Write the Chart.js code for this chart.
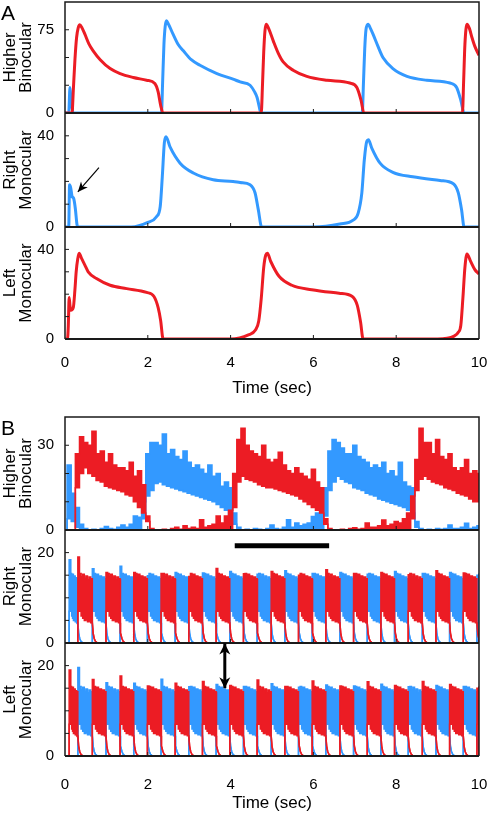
<!DOCTYPE html>
<html>
<head>
<meta charset="utf-8">
<script src="https://cdn.jsdelivr.net/npm/chart.js@4.4.1/dist/chart.umd.min.js"></script>
<style>
  html, body { margin: 0; padding: 0; background: #fff; overflow: hidden; }
  #page { position: relative; width: 488px; height: 814px; overflow: hidden; }
  .plot { position: absolute; left: 0; }
  .letter { position: absolute; font: 21px 'Liberation Sans', Arial, sans-serif; line-height: 21px; color: #000; }
</style>
</head>
<body>
<div id="page">
  <canvas id="a1" class="plot"></canvas>
  <canvas id="a2" class="plot"></canvas>
  <canvas id="a3" class="plot"></canvas>
  <canvas id="b1" class="plot"></canvas>
  <canvas id="b2" class="plot"></canvas>
  <canvas id="b3" class="plot"></canvas>
  <div class="letter" style="left:1px; top:2px">A</div>
  <div class="letter" style="left:1px; top:417px">B</div>
</div>
<script>
// --- данные ---
const timeTicks = [0, 2, 4, 6, 8, 10];

// A: Higher Binocular
const aBinoRedT = [0, 0.17, 0.2, 0.24, 0.28, 0.32, 0.36, 0.42, 0.48, 0.58, 0.68, 0.85, 1.09, 1.33, 1.65, 1.97, 2.17, 2.25, 2.31, 2.37,
  4.74, 4.77, 4.8, 4.83, 4.86, 4.92, 5.03, 5.15, 5.27, 5.51, 5.84, 6.33, 6.88, 7.05, 7.15, 7.22, 9.6, 9.63, 9.66, 9.71, 9.77, 9.83, 9.9, 10];
const aBinoRedV = [0, 0, 20, 48, 68, 77, 79.5, 76, 71, 62, 56, 48, 40, 35.5, 32, 29.5, 26.5, 19, 7, 0,
  0, 25, 55, 74, 80, 76, 65, 54, 46, 38.5, 33, 29.5, 27, 23, 11.6, 0, 0, 30, 62, 80, 76, 68, 60, 52];
const aBinoBlueT = [0, 0.09, 0.12, 0.15, 0.2, 2.33, 2.36, 2.39, 2.42, 2.45, 2.5, 2.61, 2.73, 2.86, 3.05, 3.26, 3.67, 4.06, 4.23, 4.47,
  4.58, 4.64, 4.69, 4.73, 7.18, 7.21, 7.24, 7.27, 7.32, 7.38, 7.44, 7.56, 7.68, 7.92, 8.26, 8.74, 9.3, 9.46, 9.56, 9.64, 10];
const aBinoBlueV = [0, 0, 23, 10, 0, 0, 30, 62, 78, 83, 80, 71, 62, 56, 48, 43, 35.5, 30.5, 28, 25,
  19, 14, 6, 0, 0, 28, 58, 75, 80, 76, 71, 60, 50, 40, 33, 29.5, 27, 23, 11.6, 0, 0];

// A: Right Monocular (синий)
const aRightT = [0, 0.09, 0.11, 0.14, 0.17, 0.21, 0.25, 0.29, 0.32, 1.6, 2.0, 2.21, 2.3, 2.35, 2.4, 2.44, 2.54, 2.78, 3.1, 3.58,
  4.06, 4.23, 4.47, 4.59, 4.67, 4.75, 6.0, 6.64, 6.96, 7.08, 7.17, 7.23, 7.29, 7.33, 7.41, 7.61, 7.92, 8.4, 9.06, 9.38, 9.5, 9.58, 9.64, 10];
const aRightV = [0, 0, 18.5, 17, 13.5, 12.5, 8, 1, 0, 0, 2, 4.5, 9, 22, 37, 39.6, 35, 28, 23.7, 20.7,
  20, 19.5, 18.5, 15, 7.5, 0, 0, 1.3, 3, 6, 15, 29.5, 37.6, 38.3, 34.6, 28, 24, 22, 20.4, 19, 15, 7.5, 0, 0];

// A: Left Monocular (красный)
const aLeftT = [0, 0.06, 0.08, 0.1, 0.12, 0.14, 0.2, 0.24, 0.27, 0.31, 0.34, 0.4, 0.48, 0.56, 0.76, 1.09, 1.49, 1.97, 2.15, 2.25,
  2.31, 2.37, 4.0, 4.43, 4.6, 4.68, 4.74, 4.8, 4.85, 4.89, 4.97, 5.17, 5.48, 5.96, 6.62, 6.94, 7.06, 7.14, 7.2, 9.0,
  9.4, 9.5, 9.56, 9.61, 9.66, 9.71, 9.79, 9.9, 10];
const aLeftV = [0, 0, 6, 18.5, 15, 12.8, 14, 22, 30, 36, 38.3, 36, 33, 30, 27, 24, 22.5, 20.8, 19, 14,
  8.3, 0, 0, 1.8, 4, 8, 18, 32, 37.5, 38.3, 34.6, 28, 24, 22, 20.4, 19, 15, 7.5, 0, 0,
  1.3, 3, 6, 18, 32, 38, 35, 31, 29];

// B: Higher Binocular, шаг 0.1 с, верх/низ шумовой полосы
const b1Step = 0.1;
const b1RedTop = [
  0, 0, 0, 27, 33, 31, 30, 35, 27, 28,
  24, 27, 23, 22, 22, 21, 24, 19, 21, 16,
  5, 0.5, 0, 0, 0.3, 0, 0.5, 1, 0.3, 1.5,
  0.5, 1, 0.5, 3.6, 1, 1.5, 2, 5, 2.5, 5,
  7, 20, 32, 36, 30, 28, 27, 26, 30, 25,
  24, 25, 27.5, 23, 21, 20, 22, 20, 19, 18,
  21.5, 17, 15, 4, 0.5, 0, 0, 0.3, 0, 0.5,
  0.8, 0.3, 0.5, 2.5, 1, 1, 1.5, 3.5, 1.5, 2,
  3, 2.5, 4, 6, 12, 25, 36, 31, 31, 27,
  32, 26, 25, 27, 22, 21, 22, 25, 20, 21, 20];
const b1RedLow = [
  0, 0, 0, 15, 20, 22, 20, 19, 17.5, 17,
  15.5, 15, 14.5, 14, 13.5, 12.5, 12, 10, 8, 6,
  3, 0, 0, 0, 0, 0, 0, 0, 0, 0,
  0, 0, 0, 0, 0, 0, 0, 0, 0, 0,
  0, 8, 17, 19, 18, 17.5, 17, 16, 15.5, 15,
  15, 14.5, 14, 13.5, 13, 12.5, 12, 11, 10, 9,
  8, 7, 6, 2, 0, 0, 0, 0, 0, 0,
  0, 0, 0, 0, 0, 0, 0, 0, 0, 0,
  0, 0, 0, 0, 4, 14, 18, 19, 18, 17,
  16.5, 16, 15, 14.5, 14, 13, 12.5, 12, 11, 10, 10];
const b1BlueTop = [
  0, 23, 13, 8, 2, 0.5, 0, 0.3, 0, 0.5,
  1.2, 0.5, 0.3, 1, 1.8, 1, 2, 5, 4.5, 10,
  27, 31, 31, 30, 34, 27, 28.5, 26, 25, 28,
  24, 22, 23, 21.5, 20, 23, 19, 20, 15.5, 17,
  15, 6, 1, 0, 0.3, 0, 0.5, 0.3, 0, 0.5,
  1.8, 0.5, 0.3, 1, 3.6, 1, 2.5, 1.5, 2, 2.5,
  4.8, 6, 10, 15, 28, 32, 31, 29, 27, 27,
  30, 26, 25, 24, 22, 23, 22, 24, 20, 21,
  19, 24, 17, 15.5, 15, 3, 0.5, 0, 0.3, 0,
  0.5, 0.3, 0.5, 1.8, 0.5, 0.5, 1, 2.4, 0.5, 1, 1.5];
const b1BlueLow = [
  0, 4, 3, 1, 0, 0, 0, 0, 0, 0,
  0, 0, 0, 0, 0, 0, 0, 0, 0, 4,
  12, 14, 16.5, 17, 16, 15.5, 15, 14.5, 14, 13.5,
  13, 12.5, 12, 11.5, 11, 10.5, 10, 9, 8, 7,
  5, 2, 0, 0, 0, 0, 0, 0, 0, 0,
  0, 0, 0, 0, 0, 0, 0, 0, 0, 0,
  0, 0, 0, 5, 14, 17, 19, 18, 17, 16.5,
  15, 14.5, 14, 13, 12.5, 12, 11, 10.5, 10, 9.5,
  9, 8.5, 8, 7, 6, 1, 0, 0, 0, 0,
  0, 0, 0, 0, 0, 0, 0, 0, 0, 0, 0];

// B: монокулярные блоки; чётные блоки — синий справа / красный слева, нечётные — наоборот
const flipTimes = [0.10, 0.31, 0.66, 0.99, 1.33, 1.66, 1.99, 2.32, 2.66, 2.99, 3.32, 3.65, 3.98, 4.31, 4.64, 4.98,
  5.31, 5.64, 5.97, 6.30, 6.64, 6.97, 7.30, 7.63, 7.96, 8.29, 8.63, 8.96, 9.29, 9.62, 9.95];
const b2BluePeaks = [18.4, 16.4, 17, 14.9, 15.6, 15.5, 15.8, 15.2, 16, 15.4, 15.6, 15.2, 15.8, 15.4, 15.6, 15];
const b2RedPeaks = [19, 15.6, 15.6, 15.4, 14.7, 16.5, 15.3, 15.8, 15, 16.2, 15.4, 15.6, 15.1, 16, 15.5];
const b3RedPeaks = [19, 16.9, 17.7, 15.5, 16.1, 16.5, 15.6, 16.8, 15.4, 16.6, 15.5, 16.4, 15.6, 16.5, 15.8, 15];
const b3BluePeaks = [19.6, 16.2, 16.1, 17, 15.3, 15.8, 15.4, 16, 15.2, 15.7, 15.5, 15.9, 15.3, 15.6, 15.4];
const blockTop = [15.4, 14.6, 15.2, 14.3, 14.8, 14, 14.6, 14.2];
const blockLow = [7, 6, 5.5, 5, 5.3, 4.7, 4.9, 4.5];
const tailTimes = [0, 0.02, 0.045, 0.075, 0.11, 0.16];
const tailValues = [4.5, 2.2, 1, 0.4, 0.1, 0];

// --- оформление ---
const RED = '#ec1c24';
const BLUE = '#3399ff';
const spikeWidth = 0.04;
Chart.defaults.font.family = "'Liberation Sans', Arial, Helvetica, sans-serif";
Chart.defaults.color = '#000';

function curve(t, v, color) {
  return {
    data: t.map((x, i) => ({ x, y: v[i] })),
    borderColor: color, borderWidth: 3, pointRadius: 0, fill: false,
    cubicInterpolationMode: 'monotone'
  };
}

function band(top, low, color, stepped) {
  return [
    { data: top, borderColor: color, borderWidth: 1.5, pointRadius: 0, fill: false, stepped, tension: 0 },
    { data: low, borderColor: color, backgroundColor: color, borderWidth: 1.5, pointRadius: 0, fill: '-1', stepped, tension: 0 }
  ];
}

function gridPoints(values) {
  return values.map((y, i) => ({ x: i * b1Step, y }));
}

function monoBand(first, peaks) {
  const top = [{ x: 0, y: 0 }], low = [{ x: 0, y: 0 }];
  peaks.forEach((peak, i) => {
    const j = first + 2 * i;
    const ts = flipTimes[j];
    const te = j + 1 < flipTimes.length ? flipTimes[j + 1] : 10;
    const n = blockTop.length;
    const w = (te - ts - spikeWidth) / n;
    top.push({ x: ts, y: 0 }, { x: ts, y: peak }, { x: ts + spikeWidth, y: peak });
    low.push({ x: ts, y: 0 }, { x: ts, y: blockLow[0] }, { x: ts + spikeWidth, y: blockLow[0] });
    for (let k = 0; k < n; k++) {
      const x0 = ts + spikeWidth + k * w;
      top.push({ x: x0, y: blockTop[k] }, { x: x0 + w, y: blockTop[k] });
      low.push({ x: x0, y: blockLow[k] }, { x: x0 + w, y: blockLow[k] });
    }
    tailTimes.forEach((dt, k) => {
      if (te + dt <= 10) {
        top.push({ x: te + dt, y: tailValues[k] });
        low.push({ x: te + dt, y: tailValues[k] });
      }
    });
  });
  top.push({ x: 10, y: 0 });
  low.push({ x: 10, y: 0 });
  return { top, low };
}

function drawArrowHead(ctx, x0, y0, x1, y1, len, half) {
  const a = Math.atan2(y1 - y0, x1 - x0);
  ctx.beginPath();
  ctx.moveTo(x1, y1);
  ctx.lineTo(x1 - len * Math.cos(a) + half * Math.sin(a), y1 - len * Math.sin(a) - half * Math.cos(a));
  ctx.lineTo(x1 - len * 0.7 * Math.cos(a), y1 - len * 0.7 * Math.sin(a));
  ctx.lineTo(x1 - len * Math.cos(a) - half * Math.sin(a), y1 - len * Math.sin(a) + half * Math.cos(a));
  ctx.closePath();
  ctx.fill();
}

// рамка, внутренние засечки и пометки
const framePlugin = {
  id: 'frame',
  afterDatasetsDraw(chart, args, opts) {
    const { ctx, chartArea: a, scales: { x, y } } = chart;
    ctx.save();
    ctx.strokeStyle = '#1a1a1a';
    ctx.fillStyle = '#000';
    ctx.lineWidth = 1;
    ctx.beginPath();
    (opts.yTicks || []).forEach(v => {
      const py = y.getPixelForValue(v);
      ctx.moveTo(a.left, py); ctx.lineTo(a.left + 4, py);
    });
    timeTicks.slice(1, -1).forEach(t => {
      const px = x.getPixelForValue(t);
      ctx.moveTo(px, a.bottom); ctx.lineTo(px, a.bottom - 4);
    });
    ctx.stroke();

    ctx.lineWidth = 1.5;
    ctx.beginPath();
    ctx.moveTo(a.left, a.top); ctx.lineTo(a.left, a.bottom);
    ctx.moveTo(a.right, a.top); ctx.lineTo(a.right, a.bottom);
    if (opts.top) { ctx.moveTo(a.left - 0.75, a.top); ctx.lineTo(a.right + 0.75, a.top); }
    ctx.stroke();
    ctx.lineWidth = 2;
    ctx.beginPath();
    ctx.moveTo(a.left, a.bottom); ctx.lineTo(a.right, a.bottom);
    ctx.stroke();

    (opts.bars || []).forEach(b => {
      ctx.lineWidth = b.width;
      ctx.strokeStyle = '#000';
      ctx.beginPath();
      ctx.moveTo(x.getPixelForValue(b.from[0]), y.getPixelForValue(b.from[1]));
      ctx.lineTo(x.getPixelForValue(b.to[0]), y.getPixelForValue(b.to[1]));
      ctx.stroke();
    });
    (opts.arrows || []).forEach(ar => {
      const x0 = x.getPixelForValue(ar.from[0]), y0 = y.getPixelForValue(ar.from[1]);
      const x1 = x.getPixelForValue(ar.to[0]), y1 = y.getPixelForValue(ar.to[1]);
      ctx.lineWidth = ar.width;
      ctx.strokeStyle = '#000';
      ctx.beginPath();
      ctx.moveTo(x0, y0); ctx.lineTo(x1, y1);
      ctx.stroke();
      drawArrowHead(ctx, x0, y0, x1, y1, ar.len, ar.half);
      if (ar.both) drawArrowHead(ctx, x1, y1, x0, y0, ar.len, ar.half);
    });
    ctx.restore();
  }
};

function makePlot(id, cfg) {
  const canvas = document.getElementById(id);
  canvas.width = 488;
  canvas.height = cfg.height;
  canvas.style.top = cfg.top + 'px';
  return new Chart(canvas, {
    type: 'line',
    data: { datasets: cfg.datasets },
    options: {
      responsive: false,
      animation: false,
      devicePixelRatio: 1,
      events: [],
      layout: { padding: { left: 0, right: 9, top: 10, bottom: cfg.axisHeight ? 0 : 10 } },
      plugins: {
        legend: { display: false },
        tooltip: { enabled: false },
        frame: cfg.frame
      },
      scales: {
        x: {
          type: 'linear', min: 0, max: 10,
          display: !!cfg.axisHeight,
          grid: { display: false }, border: { display: false },
          ticks: { stepSize: 2, font: { size: 15 }, padding: cfg.labelPad || 0, maxRotation: 0 },
          title: { display: true, text: 'Time (sec)', font: { size: 17 }, padding: { top: 0, bottom: cfg.titlePad || 0 } },
          afterFit: s => {
            s.height = cfg.axisHeight || 0;
            s.paddingLeft = 0;
            s.paddingRight = 0;
          }
        },
        y: {
          type: 'linear', min: 0, max: cfg.yMax,
          grid: { display: false }, border: { display: false },
          ticks: {
            stepSize: cfg.yStep, font: { size: 15 }, padding: 3,
            callback: v => cfg.yLabels.includes(v) ? String(v) : ''
          },
          title: { display: true, text: cfg.title, font: { size: 17, lineHeight: 0.95 }, padding: { top: 2, bottom: 0 } },
          afterFit: s => {
            s.width = 65;
            s.paddingTop = 0;
            s.paddingBottom = 0;
          }
        }
      }
    },
    plugins: [framePlugin]
  });
}

// --- панель A ---
makePlot('a1', {
  top: -8, height: 131, yMax: 100, yStep: 25, yLabels: [0, 75], title: ['Higher', 'Binocular'],
  frame: { top: true, yTicks: [25, 50, 75] },
  datasets: [curve(aBinoRedT, aBinoRedV, RED), curve(aBinoBlueT, aBinoBlueV, BLUE)]
});
makePlot('a2', {
  top: 103, height: 134, yMax: 50, yStep: 10, yLabels: [0, 40], title: ['Right', 'Monocular'],
  frame: {
    yTicks: [10, 20, 30, 40],
    arrows: [{ from: [0.82, 26], to: [0.31, 15.4], width: 1.2, len: 10, half: 4.5 }]
  },
  datasets: [curve(aRightT, aRightV, BLUE)]
});
makePlot('a3', {
  top: 217, height: 185, axisHeight: 63, labelPad: 7, titlePad: 3,
  yMax: 50, yStep: 10, yLabels: [0, 40], title: ['Left', 'Monocular'],
  frame: { yTicks: [10, 20, 30, 40] },
  datasets: [curve(aLeftT, aLeftV, RED)]
});

// --- панель B ---
makePlot('b1', {
  top: 407, height: 133, yMax: 40, yStep: 10, yLabels: [0, 30], title: ['Higher', 'Binocular'],
  frame: { top: true, yTicks: [10, 20, 30] },
  datasets: [
    ...band(gridPoints(b1RedTop), gridPoints(b1RedLow), RED, 'middle'),
    ...band(gridPoints(b1BlueTop), gridPoints(b1BlueLow), BLUE, 'middle')
  ]
});

const b2Red = monoBand(1, b2RedPeaks);
const b2Blue = monoBand(0, b2BluePeaks);
makePlot('b2', {
  top: 520, height: 133, yMax: 25, yStep: 5, yLabels: [0, 20], title: ['Right', 'Monocular'],
  frame: {
    yTicks: [5, 10, 15, 20],
    bars: [{ from: [4.1, 21.5], to: [6.38, 21.5], width: 5 }]
  },
  datasets: [...band(b2Red.top, b2Red.low, RED, false), ...band(b2Blue.top, b2Blue.low, BLUE, false)]
});

const b3Red = monoBand(0, b3RedPeaks);
const b3Blue = monoBand(1, b3BluePeaks);
makePlot('b3', {
  top: 633, height: 185, axisHeight: 62, labelPad: 12, titlePad: 4,
  yMax: 25, yStep: 5, yLabels: [0, 20], title: ['Left', 'Monocular'],
  frame: {
    yTicks: [5, 10, 15, 20],
    arrows: [{ from: [3.86, 24.9], to: [3.86, 15], width: 3, len: 11, half: 5.5, both: true }]
  },
  datasets: [...band(b3Red.top, b3Red.low, RED, false), ...band(b3Blue.top, b3Blue.low, BLUE, false)]
});
</script>
</body>
</html>
